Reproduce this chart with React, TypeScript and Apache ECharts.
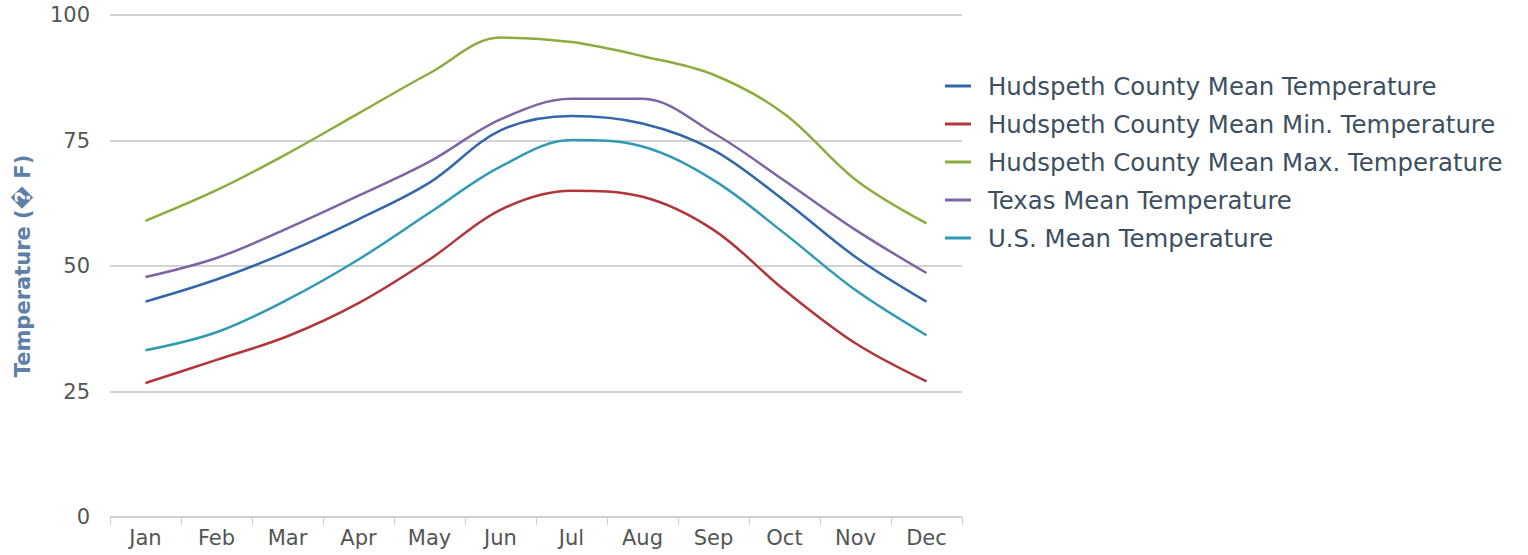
import React, { useEffect, useRef } from "react";
import * as echarts from "echarts";

const months = ["Jan", "Feb", "Mar", "Apr", "May", "Jun", "Jul", "Aug", "Sep", "Oct", "Nov", "Dec"];
const hudspethMean = [42.9, 47.3, 52.8, 59.3, 66.6, 77.0, 79.9, 78.4, 73.1, 63.0, 51.8, 42.9];
const hudspethMin = [26.7, 31.3, 36.0, 42.6, 51.3, 61.2, 65.0, 63.8, 57.2, 45.2, 34.6, 27.0];
const hudspethMax = [59.0, 65.1, 72.4, 80.4, 88.4, 95.5, 94.6, 91.8, 88.1, 80.3, 67.2, 58.5];
const texasMean = [47.8, 51.6, 57.5, 64.0, 70.8, 79.2, 83.3, 83.3, 76.5, 67.0, 57.2, 48.6];
const usMean = [33.2, 36.8, 43.3, 51.3, 60.6, 69.8, 75.1, 73.8, 67.1, 56.5, 45.2, 36.2];

const seriesNames = [
  "Hudspeth County Mean Temperature",
  "Hudspeth County Mean Min. Temperature",
  "Hudspeth County Mean Max. Temperature",
  "Texas Mean Temperature",
  "U.S. Mean Temperature",
];
const seriesColors = ["#3466ab", "#b2353a", "#8dab3e", "#7d64a6", "#2f9ab3"];
const yTicks = [0, 25, 50, 75, 100];

export default function App() {
  const ref = useRef<HTMLDivElement>(null);
  useEffect(() => {
    if (!ref.current) return;
    const chart = echarts.init(ref.current, undefined, { renderer: "svg" });
    const data = [hudspethMean, hudspethMin, hudspethMax, texasMean, usMean];
    chart.setOption({
      animation: false,
      backgroundColor: "#ffffff",
      grid: { left: 110, right: 566, top: 15, bottom: 38, containLabel: false },
      legend: {
        orient: "vertical",
        left: 940,
        top: 69,
        icon: "rect",
        itemWidth: 26,
        itemHeight: 3,
        itemGap: 14,
        data: seriesNames,
        textStyle: {
          fontFamily: "DejaVu Sans",
          fontSize: 24.4,
          color: "#3e4f60",
          padding: [0, 0, 0, 12],
          lineHeight: 24,
        },
      },
      xAxis: {
        type: "category",
        data: months,
        boundaryGap: true,
        axisLine: { show: true, lineStyle: { color: "#c8d2dc", width: 1 } },
        axisTick: { show: true, length: 8, lineStyle: { color: "#c8d2dc" } },
        axisLabel: {
          fontFamily: "DejaVu Sans",
          fontSize: 21,
          color: "#555",
          margin: 10,
        },
        splitLine: { show: false },
      },
      yAxis: {
        type: "value",
        min: yTicks[0],
        max: yTicks[yTicks.length - 1],
        interval: 25,
        name: "Temperature (\uFFFD F)",
        nameLocation: "middle",
        nameGap: 77,
        nameRotate: 90,
        nameTextStyle: {
          fontFamily: "DejaVu Sans",
          fontSize: 21,
          fontWeight: "bold",
          color: "#5d7fa8",
        },
        axisLine: { show: false },
        axisTick: { show: false },
        axisLabel: {
          fontFamily: "DejaVu Sans",
          fontSize: 21,
          color: "#555",
          margin: 20,
        },
        splitLine: { show: true, lineStyle: { color: "#c4c4c4", width: 1.5 } },
      },
      series: data.map((d, i) => ({
        name: seriesNames[i],
        type: "line",
        data: d,
        smooth: 0.35,
        showSymbol: false,
        symbol: "none",
        lineStyle: { color: seriesColors[i], width: 2.5 },
        itemStyle: { color: seriesColors[i] },
      })),
    });
    return () => chart.dispose();
  }, []);
  return (
    <div
      ref={ref}
      style={{ position: "fixed", left: 0, top: 0, width: 1528, height: 555 }}
    />
  );
}
